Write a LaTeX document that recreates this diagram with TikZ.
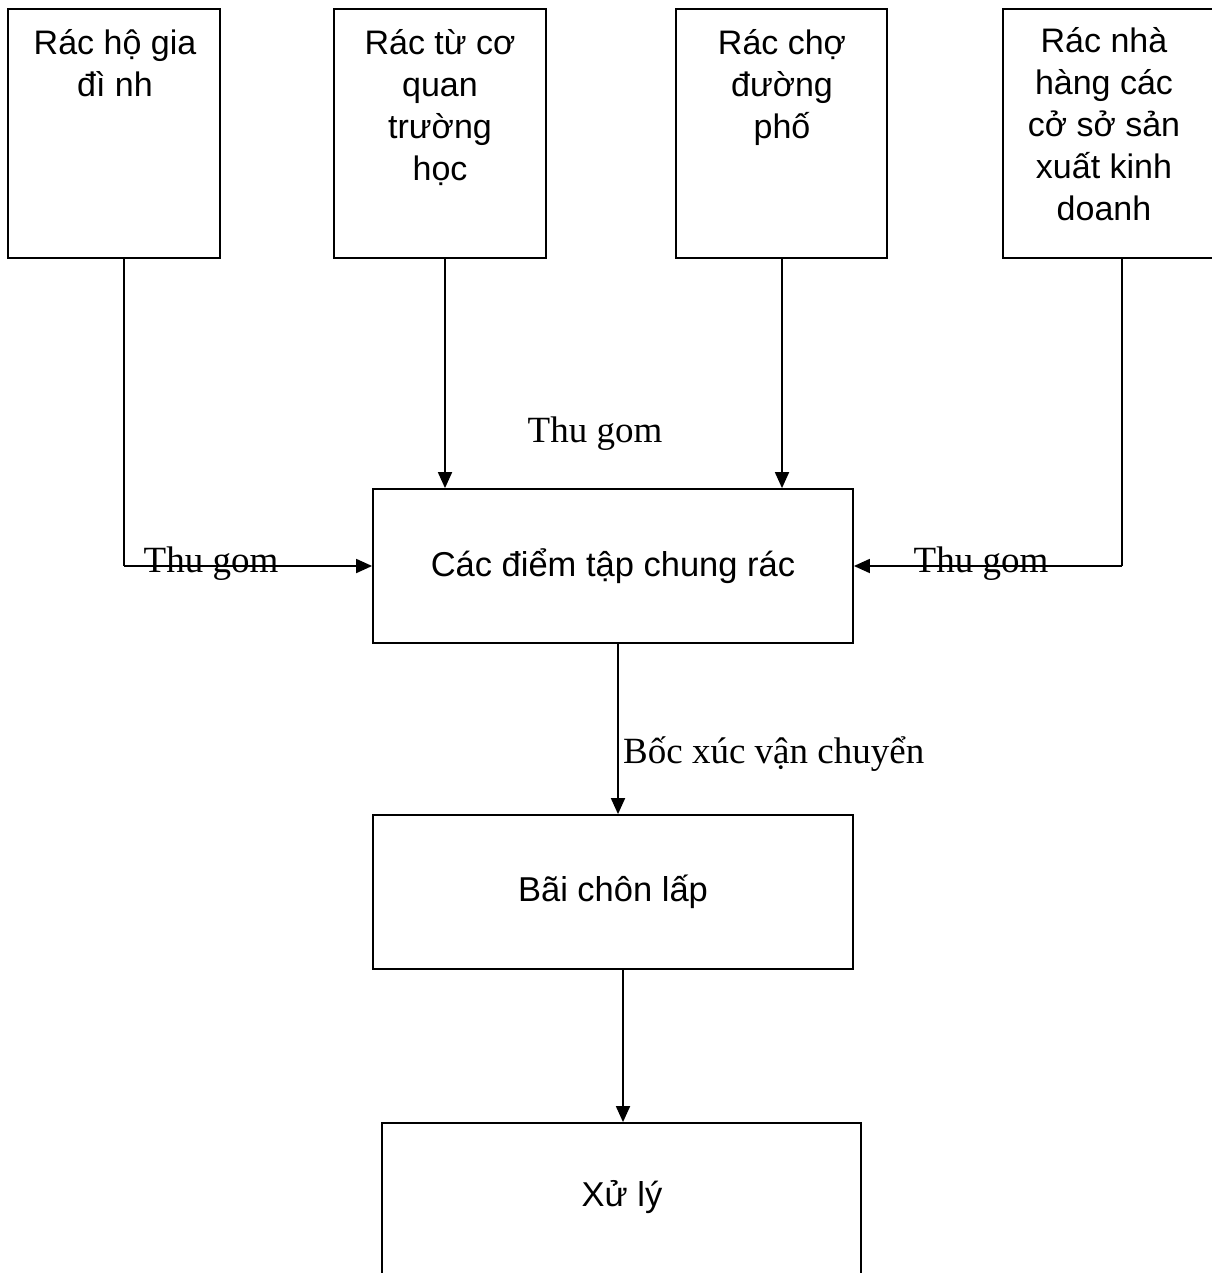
\documentclass[tikz,border=0pt]{standalone}
\usepackage{fontspec}
\setmainfont{Liberation Serif}
\newfontfamily\arialf{Liberation Sans}
\usetikzlibrary{arrows.meta}
\tikzset{
  box/.style={draw, line width=1.8pt, inner sep=0pt},
  boxtext/.style={font=\arialf\fontsize{34}{42}\selectfont, align=center, inner sep=0pt, anchor=base},
  lbl/.style={font=\fontsize{37}{40}\selectfont, inner sep=0pt, anchor=base},
  arr/.style={line width=1.8pt, -{Triangle[length=16pt,width=14pt]}},
  ln/.style={line width=1.8pt}
}
\begin{document}
\begin{tikzpicture}[x=1pt,y=-1pt]
\useasboundingbox (0,0) rectangle (1211,1273);
% top boxes
\node[box, minimum width=212pt, minimum height=249pt] (b1) at (114,133.5) {};
\node[box, minimum width=212pt, minimum height=249pt] (b2) at (440,133.5) {};
\node[box, minimum width=211pt, minimum height=249pt] (b3) at (781.5,133.5) {};
\node[box, minimum width=212pt, minimum height=249pt] (b4) at (1109,133.5) {};
\node[boxtext] (t1) at (115,97) {Rác hộ gia\\đì nh};
\node[boxtext] (t2) at (440,181) {Rác từ cơ\\quan\\trường\\học};
\node[boxtext] (t3) at (782,139) {Rác chợ\\đường\\phố};
\node[boxtext] (t4) at (1104,221) {Rác nhà\\hàng các\\cở sở sản\\xuất kinh\\doanh};
% center boxes
\node[box, minimum width=480pt, minimum height=154pt, font=\arialf\fontsize{34.5}{42}\selectfont] (c) at (613,566) {Các điểm tập chung rác};
\node[box, minimum width=480pt, minimum height=154pt, font=\arialf\fontsize{34.5}{42}\selectfont] (d) at (613,892) {Bãi chôn lấp};
\node[box, minimum width=479pt, minimum height=167pt] (e) at (621.5,1206.5) {};
\node[font=\arialf\fontsize{34.5}{42}\selectfont, inner sep=0pt] (et) at (622,1197) {Xử lý};
% connectors
\coordinate (k1) at (124,566);
\coordinate (k4) at (1122,566);
\draw[ln] ([xshift=10pt]b1.south) -- (k1);
\draw[arr] (k1) -- (c.west |- k1);
\draw[ln] ([xshift=13pt]b4.south) -- (k4);
\draw[arr] (k4) -- (c.east |- k4);
\draw[arr] ([xshift=5pt]b2.south) -- ([xshift=5pt]b2.south |- c.north);
\draw[arr] ([xshift=0.5pt]b3.south) -- ([xshift=0.5pt]b3.south |- c.north);
\draw[arr] ([xshift=5pt]c.south) -- ([xshift=5pt]d.north);
\draw[arr] ([xshift=10pt]d.south) -- ([xshift=10pt]d.south |- e.north);
% labels
\node[lbl] (l1) at (595,442) {Thu gom};
\node[lbl] (l2) at (211,572) {Thu gom};
\node[lbl] (l3) at (981,572) {Thu gom};
\node[lbl, anchor=base west] (l4) at (623,763) {Bốc xúc vận chuyển};
\end{tikzpicture}
\end{document}
